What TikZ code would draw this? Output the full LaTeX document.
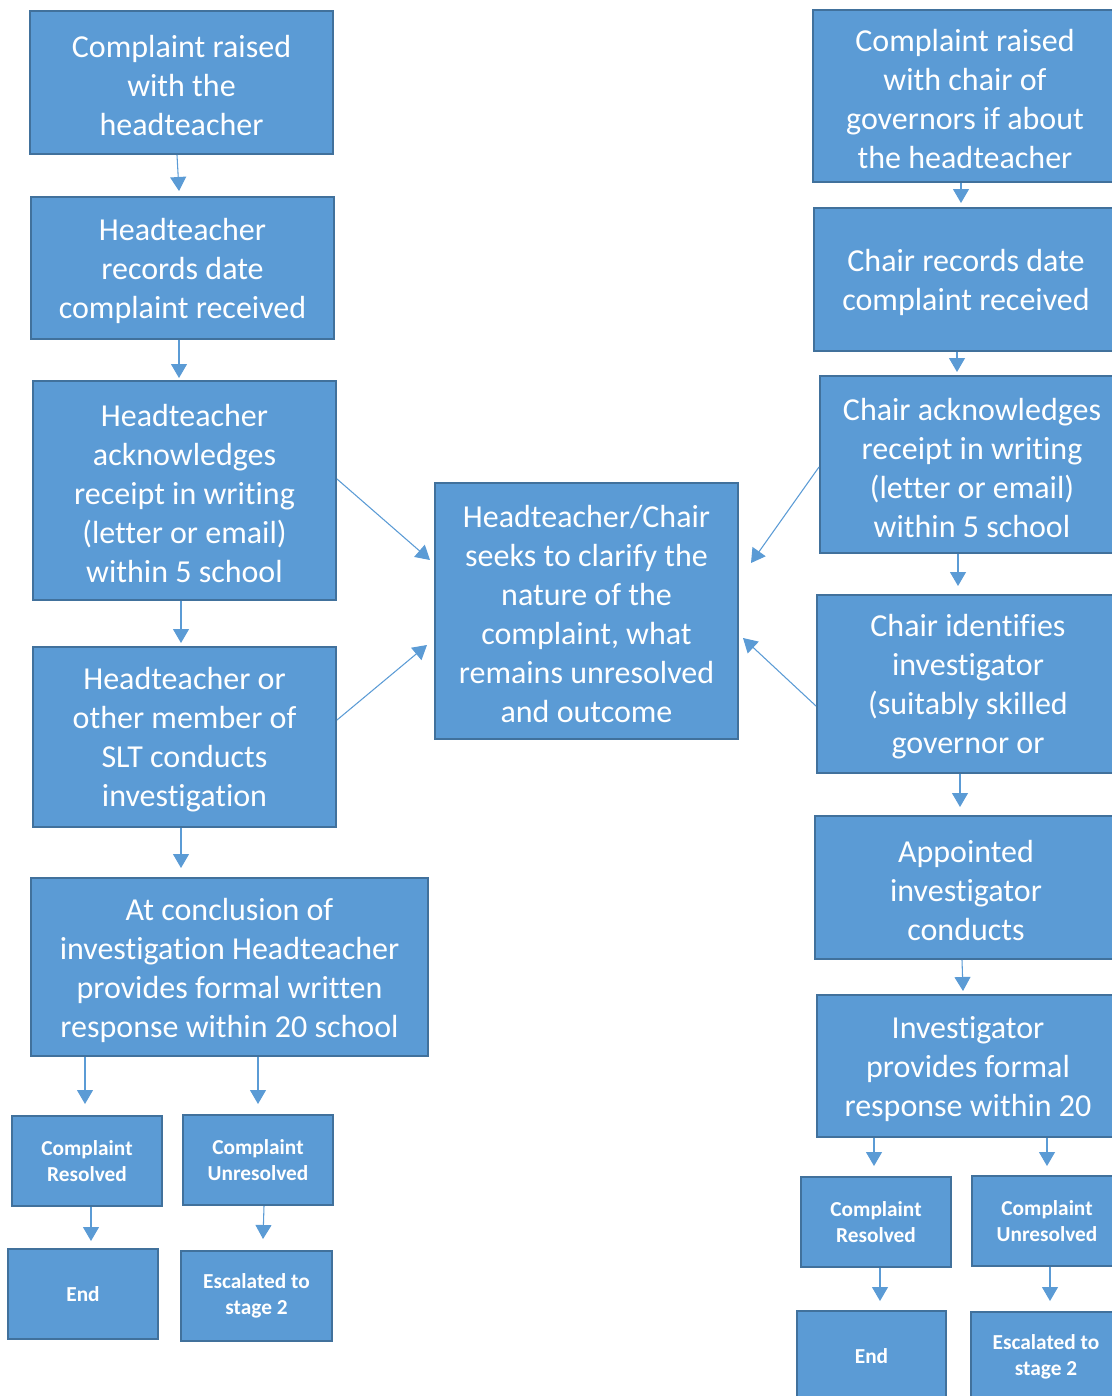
\documentclass[tikz,border=0pt]{standalone}
\usepackage{fontspec}
\setmainfont{Carlito}[Ligatures=NoCommon]
\usetikzlibrary{arrows.meta,calc}
\definecolor{boxc}{HTML}{5B9BD5}
\definecolor{bordc}{HTML}{41719C}
\definecolor{arrc}{HTML}{5B9BD5}
\tikzset{
  boxshape/.style={draw=bordc, fill=boxc, line width=1.5pt, inner sep=0pt},
  boxtext/.style={text=white, align=center, inner sep=0pt, font=\fontsize{24}{29.25}\selectfont},
  smallbox/.style={boxshape, text=white, align=center, font=\bfseries\fontsize{16}{19.8}\selectfont},
  arr/.style={draw=arrc, line width=0.8pt, -{Triangle[width=12pt,length=10.5pt]}}
}
% big box: shape node plus its text, text lowered slightly
\newcommand\bx[6]{\node[boxshape, minimum width={(#4-#2)*0.75pt}, minimum height={(#5-#3)*0.75pt}] (#1) at ({(#2+#4)/2},{(#3+#5)/2}) {};
  \node[boxtext] (#1t) at ($(#1.center)+(0,3)$) {#6};}
\newcommand\sbx[6]{\node[smallbox, minimum width={(#4-#2)*0.75pt}, minimum height={(#5-#3)*0.75pt}] (#1) at ({(#2+#4)/2},{(#3+#5)/2}) {#6};}
\begin{document}
\begin{tikzpicture}[x=0.75pt,y=-0.75pt]
\useasboundingbox (0,0) rectangle (1112,1396);
% left column
\bx{A1}{30}{11}{333}{154}{Complaint raised\\with the\\headteacher}
\bx{A2}{31}{197}{334}{339}{Headteacher\\records date\\complaint received}
\bx{A3}{33}{381}{336}{600}{Headteacher\\acknowledges\\receipt in writing\\(letter or email)\\within 5 school}
\bx{A4}{33}{647}{336}{827}{Headteacher or\\other member of\\SLT conducts\\investigation}
\bx{A5}{31}{878}{428}{1056}{At conclusion of\\investigation Headteacher\\provides formal written\\response within 20 school}
\sbx{A6}{12}{1116}{162}{1206}{Complaint\\Resolved}
\sbx{A7}{183}{1115}{333}{1205}{Complaint\\Unresolved}
\sbx{A8}{8}{1249}{158}{1339}{End}
\sbx{A9}{181}{1251}{332}{1341}{Escalated to\\stage 2}
% centre
\bx{C}{435}{483}{738}{739}{Headteacher/Chair\\seeks to clarify the\\nature of the\\complaint, what\\remains unresolved\\and outcome}
% right column
\bx{B1}{813}{10}{1117}{182}{Complaint raised\\with chair of\\governors if about\\the headteacher}
\bx{B2}{814}{208}{1118}{351}{Chair records date\\complaint received}
\bx{B3}{820}{376}{1124}{553}{Chair acknowledges\\receipt in writing\\(letter or email)\\within 5 school}
\bx{B4}{817}{595}{1119}{773}{Chair identifies\\investigator\\(suitably skilled\\governor or}
\bx{B5}{815}{816}{1117}{959}{Appointed\\investigator\\conducts}
\bx{B6}{817}{995}{1119}{1137}{Investigator\\provides formal\\response within 20}
\sbx{B7}{801}{1177}{951}{1267}{Complaint\\Resolved}
\sbx{B8}{972}{1176}{1122}{1266}{Complaint\\Unresolved}
\sbx{B9}{797}{1311}{946}{1401}{End}
\sbx{B10}{971}{1312}{1121}{1402}{Escalated to\\stage 2}
% left arrows
\draw[arr] ($(A1.south)+(-4.5,0)$) -- ($(A2.north)+(-3.5,-5)$);
\draw[arr] ($(A2.south)+(-3.5,0)$) -- ($(A3.north)+(-5.5,-2)$);
\draw[arr] ($(A3.south)+(-3.5,0)$) -- ($(A4.north)+(-3.5,-3)$);
\draw[arr] ($(A4.south)+(-3.5,0)$) -- ($(A5.north)+(-48.5,-9)$);
\draw[arr] ($(A5.south)+(-144.5,0)$) -- ($(A6.north)+(-2,-11)$);
\draw[arr] ($(A5.south)+(28.5,0)$) -- ($(A7.north)+(0,-10)$);
\draw[arr] ($(A6.south)+(4,0)$) -- ($(A8.north)+(8,-7)$);
\draw[arr] ($(A7.south)+(6,0)$) -- ($(A9.north)+(6.5,-11)$);
% to centre
\draw[arr] ($(A3.east)+(0,-11.5)$) -- ($(C.west)+(-4,-51)$);
\draw[arr] ($(A4.east)+(0,-17)$) -- ($(C.west)+(-7,34)$);
\draw[arr] ($(B3.west)+(0,2.5)$) -- ($(C.east)+(12,-48)$);
\draw[arr] ($(B4.west)+(0,22)$) -- ($(C.east)+(4,27)$);
% right arrows
\draw[arr] ($(B1.south)+(-4,0)$) -- ($(B2.north)+(-5,-4)$);
\draw[arr] ($(B2.south)+(-9,0)$) -- ($(B3.north)+(-15,-3)$);
\draw[arr] ($(B3.south)+(-14,0)$) -- ($(B4.north)+(-10,-8)$);
\draw[arr] ($(B4.south)+(-8,0)$) -- ($(B5.north)+(-6,-8)$);
\draw[arr] ($(B5.south)+(-4,0)$) -- ($(B6.north)+(-5,-3)$);
\draw[arr] ($(B6.south)+(-94,0)$) -- ($(B7.north)+(-2,-10)$);
\draw[arr] ($(B6.south)+(79,0)$) -- ($(B8.north)+(0,-9)$);
\draw[arr] ($(B7.south)+(4,0)$) -- ($(B9.north)+(8.5,-9)$);
\draw[arr] ($(B8.south)+(3,0)$) -- ($(B10.north)+(4,-10)$);
\end{tikzpicture}
\end{document}
